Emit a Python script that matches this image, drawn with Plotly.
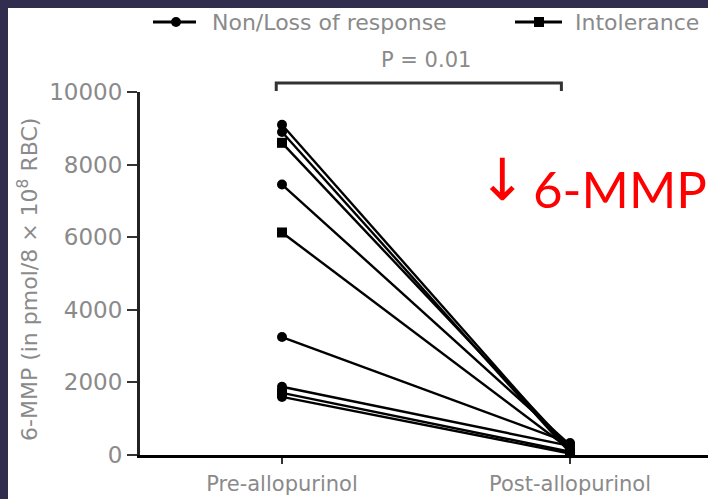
import plotly.graph_objects as go

# Patient-level 6-MMP concentrations before and after allopurinol
pre_values = [9100, 8900, 8600, 7450, 6130, 3250, 1880, 1710, 1600]
post_values = [120, 60, 200, 280, 150, 330, 250, 90, 40]
groups = ["Non/Loss of response", "Non/Loss of response", "Intolerance",
          "Non/Loss of response", "Intolerance", "Non/Loss of response",
          "Non/Loss of response", "Intolerance", "Non/Loss of response"]

x_positions = [0, 1]
x_labels = ["Pre-allopurinol", "Post-allopurinol"]
y_ticks = [0, 2000, 4000, 6000, 8000, 10000]
y_tick_labels = ["0", "2000", "4000", "6000", "8000", "10000"]
legend_order = ["Non/Loss of response", "Intolerance"]
y_title = "6-MMP (in pmol/8 × 10<sup>8</sup> RBC)"
p_label = "P = 0.01"
callout = "6-MMP"

symbols = {"Non/Loss of response": "circle", "Intolerance": "square"}

NAVY = "#312D4F"
TEXT = "#8a8a8a"
FONT = "DejaVu Sans"

# plot-area geometry in pixels
L, R, T, B = 140, 0, 92, 44
W, H = 708, 499
PW, PH = W - L - R, H - T - B


def px(xp):
    return (xp - L) / PW


def py(yp):
    return (H - B - yp) / PH


fig = go.Figure()
for pre, post, grp in zip(pre_values, post_values, groups):
    fig.add_trace(go.Scatter(
        x=x_positions, y=[pre, post],
        mode="lines+markers",
        name=grp, showlegend=False,
        line=dict(color="black", width=2.4),
        marker=dict(color="black", size=10, symbol=symbols[grp]),
        cliponaxis=False,
    ))

# white panel inside the navy frame
fig.add_shape(type="rect", xref="paper", yref="paper",
              x0=px(8), x1=px(W + 5), y0=py(H + 5), y1=py(8),
              fillcolor="white", line=dict(width=0), layer="below")

# legend drawn as line + marker + label
legend_pos = [(153, 196, 176, 210), (515, 562, 539, 573)]
ly = 22
for name, (lx0, lx1, mx, tx) in zip(legend_order, legend_pos):
    fig.add_shape(type="line", xref="paper", yref="paper",
                  x0=px(lx0), x1=px(lx1), y0=py(ly), y1=py(ly),
                  line=dict(color="black", width=3))
    r = 5
    fig.add_shape(type="circle" if symbols[name] == "circle" else "rect",
                  xref="paper", yref="paper",
                  x0=px(mx - r), x1=px(mx + r), y0=py(ly + r), y1=py(ly - r),
                  fillcolor="black", line=dict(width=0))
    fig.add_annotation(x=px(tx), xref="paper", y=py(ly), yref="paper",
                       text=name, showarrow=False, xanchor="left", yanchor="middle",
                       font=dict(family=FONT, size=22, color=TEXT))

# y-axis title
fig.add_annotation(x=px(28), xref="paper", y=py(280), yref="paper",
                   text=y_title, textangle=-90, showarrow=False,
                   xanchor="center", yanchor="middle",
                   font=dict(family=FONT, size=22, color=TEXT))

# significance bracket
by = py(83)
drop = 8 / PH
fig.add_shape(type="path", xref="x", yref="paper",
              path=f"M -0.02 {by - drop} L -0.02 {by} L 0.97 {by} L 0.97 {by - drop}",
              line=dict(color="#333", width=3))
fig.add_annotation(x=0.5, xref="x", y=py(60), yref="paper",
                   text=p_label, showarrow=False, yanchor="middle",
                   font=dict(family=FONT, size=21, color=TEXT))

# red call-out
fig.add_annotation(x=px(502), xref="paper", y=py(180), yref="paper",
                   text="↓", showarrow=False, xanchor="center", yanchor="middle",
                   font=dict(family="DejaVu Sans", size=58, color="#FF0000"))
fig.add_annotation(x=px(531), xref="paper", y=py(188), yref="paper",
                   text=callout, showarrow=False, xanchor="left", yanchor="middle",
                   font=dict(family="Lato", size=51, color="#FF0000"))

fig.update_layout(
    width=W, height=H, autosize=False,
    margin=dict(l=L, r=R, t=T, b=B),
    paper_bgcolor=NAVY, plot_bgcolor="white",
    showlegend=False,
    xaxis=dict(range=[-0.493, 1.479], tickvals=x_positions, ticktext=x_labels,
               showline=True, linecolor="black", linewidth=3, showgrid=False, zeroline=False,
               ticks="outside", ticklen=6, tickwidth=2, tickcolor="#333",
               ticklabelstandoff=2, automargin=False,
               tickfont=dict(family=FONT, size=21, color=TEXT)),
    yaxis=dict(range=[0, 10000], tickvals=y_ticks, ticktext=y_tick_labels,
               showline=True, linecolor="#222", linewidth=3, showgrid=False, zeroline=False,
               ticks="outside", ticklen=10, tickwidth=2, tickcolor="#333",
               automargin=False,
               tickfont=dict(family=FONT, size=23, color=TEXT)),
)

fig.write_html("out.html")
